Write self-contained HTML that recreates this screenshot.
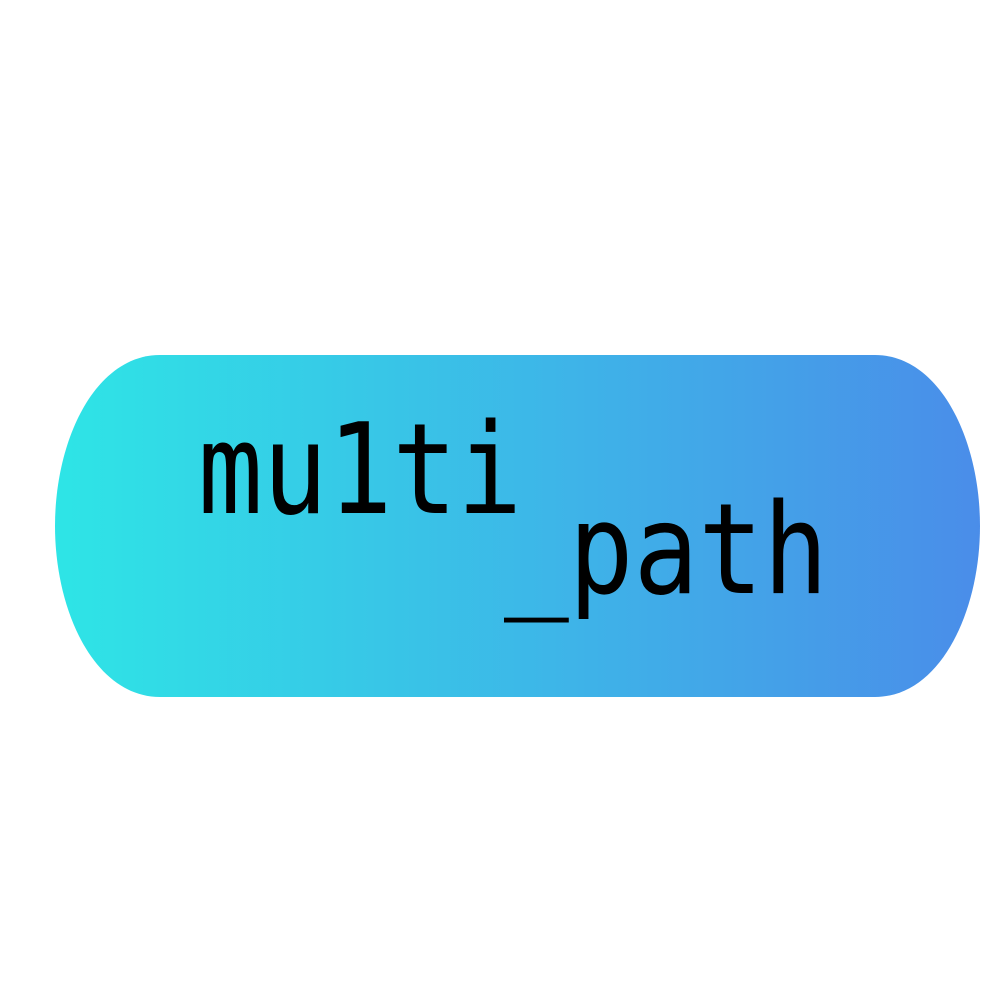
<!DOCTYPE html>
<html><head><style>html,body{margin:0;padding:0;background:#fff;}</style></head>
<body>
<svg width="1000" height="1000" xmlns="http://www.w3.org/2000/svg">
<defs><linearGradient id="g" x1="0" x2="1" y1="0" y2="0">
<stop offset="0" stop-color="#2ee5e6"/><stop offset="1" stop-color="#4a8de9"/></linearGradient></defs>
<path d="M160,355 L875,355 C940,355 980,440 980,526 C980,612 940,697 875,697 L160,697 C95,697 55,612 55,526 C55,440 95,355 160,355 Z" fill="url(#g)"/>
<g font-family="DejaVu Sans Mono, Liberation Mono, monospace" font-size="126" fill="#000">
<text x="198" y="513" textLength="324" lengthAdjust="spacingAndGlyphs">mu1ti</text>
<text x="504" y="593" textLength="324" lengthAdjust="spacingAndGlyphs">_path</text>
</g>
</svg>
</body></html>
